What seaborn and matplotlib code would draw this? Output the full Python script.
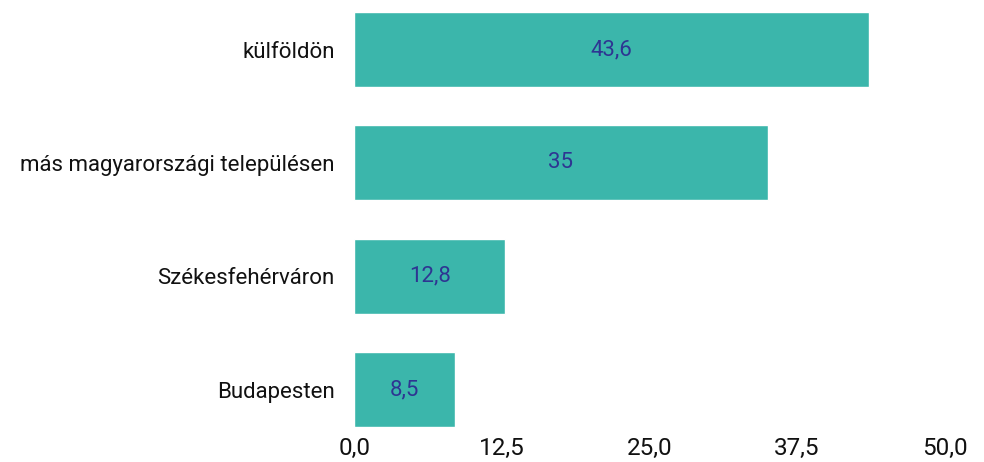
import matplotlib
matplotlib.use("Agg")
import matplotlib.pyplot as plt
import seaborn as sns
import pandas as pd

# data
categories = ["külföldön", "más magyarországi településen", "Székesfehérváron", "Budapesten"]
values = [43.6, 35.0, 12.8, 8.5]
value_labels = ["43,6", "35", "12,8", "8,5"]
tick_values = [0, 12.5, 25, 37.5, 50]
tick_labels = ["0,0", "12,5", "25,0", "37,5", "50,0"]

df = pd.DataFrame({"cat": categories, "val": values})

sns.set_theme(style="white")
plt.rcParams["font.family"] = ["Roboto", "DejaVu Sans"]

fig = plt.figure(figsize=(9.84, 4.62), dpi=100)
ax = fig.add_axes([0.36, 0.0758, 0.60, 0.898])

bar_color = "#3bb6ab"
sns.barplot(data=df, x="val", y="cat", color=bar_color, saturation=1,
            width=0.66, ax=ax)

# value labels centred inside the bars
for i, (v, lbl) in enumerate(zip(values, value_labels)):
    ax.text(v / 2, i, lbl, ha="center", va="center", fontsize=16, color="#2e3592")

ax.set_xlim(0, 50)
ax.set_ylim(3.33, -0.33)
ax.set_xticks(tick_values)
ax.set_xticklabels(tick_labels, fontsize=17.5, color="#111111")
ax.tick_params(axis="x", length=0, pad=7)
ax.tick_params(axis="y", length=0, pad=14, labelsize=16, labelcolor="#111111")
ax.set_xlabel("")
ax.set_ylabel("")
for s in ax.spines.values():
    s.set_visible(False)

fig.savefig("out.png", dpi=100)
